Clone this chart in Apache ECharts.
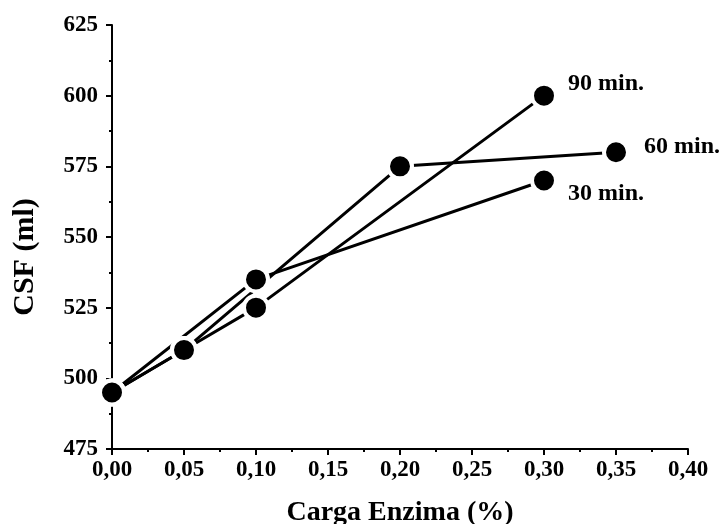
<!DOCTYPE html>
<html>
<head>
<meta charset="utf-8">
<script src="https://cdn.jsdelivr.net/npm/echarts@6/dist/echarts.min.js"></script>
<style>
  html, body { margin: 0; padding: 0; background: #fff; }
  #chart { width: 719px; height: 524px; }
</style>
</head>
<body>
<div id="chart"></div>
<script>
// Enzyme load (%) vs CSF (ml) for three treatment times
const x30 = [0, 0.10, 0.30];
const csf30 = [495, 535, 570];

const x60 = [0, 0.05, 0.20, 0.35];
const csf60 = [495, 510, 575, 580];

const x90 = [0, 0.05, 0.10, 0.30];
const csf90 = [495, 510, 525, 600];

const seriesNames = ['30 min.', '60 min.', '90 min.'];

const FONT = '"Liberation Serif", "Times New Roman", serif';

function pairs(xs, ys) {
  return xs.map((x, i) => [x, ys[i]]);
}

function commaFmt(v, digits) {
  return v.toFixed(digits).replace('.', ',');
}

function makeSeries(name, xs, ys, labelOffset) {
  return {
    name: name,
    type: 'line',
    data: pairs(xs, ys),
    symbol: 'circle',
    symbolSize: 24,
    clip: false,
    lineStyle: { color: '#000', width: 3 },
    itemStyle: { color: '#000', borderColor: '#fff', borderWidth: 4 },
    endLabel: {
      show: true,
      formatter: name,
      color: '#000',
      fontFamily: FONT,
      fontWeight: 'bold',
      fontSize: 24,
      offset: labelOffset
    },
    emphasis: { disabled: true }
  };
}

const chart = echarts.init(document.getElementById('chart'), null, { renderer: 'canvas' });

chart.setOption({
  animation: false,
  backgroundColor: '#fff',
  grid: { left: 112, right: 31, top: 25, bottom: 75, outerBoundsMode: 'none' },
  xAxis: {
    type: 'value',
    min: 0,
    max: 0.40,
    interval: 0.05,
    name: 'Carga Enzima (%)',
    nameLocation: 'middle',
    nameGap: 50,
    nameTextStyle: { color: '#000', fontFamily: FONT, fontWeight: 'bold', fontSize: 28 },
    axisLine: { lineStyle: { color: '#000', width: 2 } },
    axisTick: { show: true, inside: false, length: 6, lineStyle: { color: '#000', width: 2 } },
    minorTick: { show: true, splitNumber: 2, length: 3, lineStyle: { color: '#000', width: 2 } },
    splitLine: { show: false },
    axisLabel: {
      color: '#000', fontFamily: FONT, fontWeight: 'bold', fontSize: 23, margin: 10,
      formatter: v => commaFmt(v, 2)
    }
  },
  yAxis: {
    type: 'value',
    min: 475,
    max: 625,
    interval: 25,
    name: 'CSF (ml)',
    nameLocation: 'middle',
    nameGap: 72,
    nameTextStyle: {
      color: '#000', fontFamily: FONT, fontWeight: 'bold', fontSize: 30,
      padding: [0, 40, 0, 0]
    },
    axisLine: { show: true, lineStyle: { color: '#000', width: 2 } },
    axisTick: { show: true, inside: false, length: 6, lineStyle: { color: '#000', width: 2 } },
    minorTick: { show: true, splitNumber: 2, length: 3, lineStyle: { color: '#000', width: 2 } },
    splitLine: { show: false },
    axisLabel: {
      color: '#000', fontFamily: FONT, fontWeight: 'bold', fontSize: 23, margin: 14
    }
  },
  series: [
    makeSeries(seriesNames[0], x30, csf30, [16, 13]),
    makeSeries(seriesNames[1], x60, csf60, [20, -5]),
    makeSeries(seriesNames[2], x90, csf90, [16, -12])
  ]
});
</script>
</body>
</html>
